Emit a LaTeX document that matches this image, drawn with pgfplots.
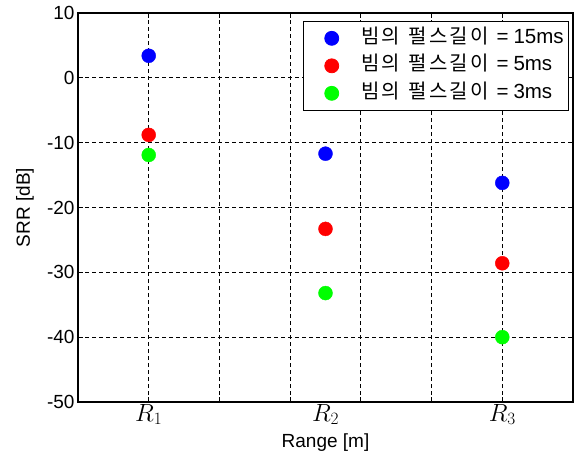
\documentclass[border=0pt]{standalone}
\usepackage{pgfplots}
\pgfplotsset{compat=1.18}
\usepackage{fontspec}
\setmainfont{Liberation Sans}
\newfontfamily\kr{Noto Sans CJK KR}[LetterSpace=10]
\newcommand{\kor}{{\kr\fontsize{20}{23}\selectfont 빔의\hspace{9pt}펄스길이}\hspace{8pt}=\hspace{5pt}}
\begin{document}
\begin{tikzpicture}
\begin{axis}[
  scale only axis, width=495pt, height=389pt,
  xmin=0, xmax=7, ymin=-50, ymax=10,
  xtick={1,2,3,4,5,6}, xticklabels={},
  ytick={-50,-40,-30,-20,-10,0,10},
  yticklabels={-50,-40,-30,-20,-10,0,10},
  extra x ticks={1,3.5,6},
  extra x tick labels={$R_{1}$,$R_{2}$,$R_{3}$},
  extra x tick style={grid=none, major tick length=0pt},
  xticklabel style={font=\fontsize{23}{27}\selectfont, inner sep=2pt},
  yticklabel style={font=\fontsize{19}{22}\selectfont},
  grid=major,
  major grid style={black, dash pattern=on 4pt off 3pt, line width=0.9pt},
  axis line style={black, line width=1.2pt},
  tick style={black, line width=1pt},
  major tick length=5pt,
  xlabel={Range [m]}, ylabel={SRR [dB]},
  label style={font=\fontsize{19}{22}\selectfont},
  xlabel style={at={(axis description cs:0.5,-0.08)}, anchor=north, inner sep=0pt},
  ylabel style={at={(axis description cs:-0.107,0.5)}, anchor=center, inner sep=0pt},
  legend style={at={(axis description cs:0.992,0.979)}, anchor=north east,
    draw=black, line width=0.8pt, inner sep=3pt,
    font=\fontsize{20.5}{23}\selectfont,
    nodes={text height=14pt, text depth=4pt, inner ysep=4.75pt, inner xsep=2pt}},
  legend cell align=left,
  legend image code/.code={\path (0pt,0pt) (52pt,0pt); \draw plot coordinates {(25pt,0pt)};},
]
\addplot[only marks, mark=*, mark size=7pt, color={rgb,255:red,0;green,0;blue,255}] coordinates {(1,3.4) (3.5,-11.7) (6,-16.2)};
\addlegendentry{\kor 15ms}
\addplot[only marks, mark=*, mark size=7pt, color={rgb,255:red,255;green,0;blue,0}] coordinates {(1,-8.8) (3.5,-23.3) (6,-28.6)};
\addlegendentry{\kor 5ms}
\addplot[only marks, mark=*, mark size=7pt, color={rgb,255:red,0;green,255;blue,0}] coordinates {(1,-11.9) (3.5,-33.2) (6,-40)};
\addlegendentry{\kor 3ms}
\end{axis}
\path ([xshift=-78pt,yshift=-56pt]current axis.south west) rectangle ([xshift=3pt,yshift=13pt]current axis.north east);
\end{tikzpicture}
\end{document}
